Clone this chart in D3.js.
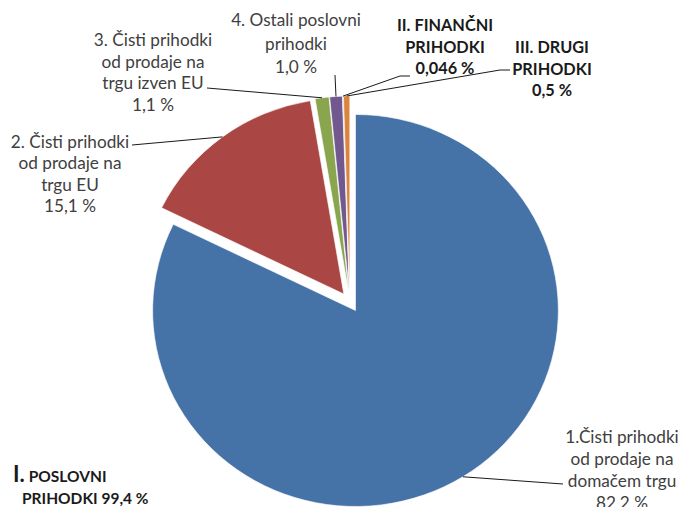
<!DOCTYPE html>
<head>
  <meta charset="utf-8">
  <script src="https://d3js.org/d3.v7.min.js"></script>
  <style>
    body { margin:0; background:#fff; }
    .lbl { font-family: Lato, sans-serif; font-size: 17.2px; fill: #404040; }
    .lbl.bold { font-weight: bold; font-size: 16.3px; fill: #1a1a1a; }
    .leader { fill: none; stroke: #1a1a1a; stroke-width: 1; }
  </style>
</head>
<body>
  <script>
    // slices in drawing order (clockwise from 12 o'clock)
    var categories = ["1.Čisti prihodki od prodaje na domačem trgu",
                      "2. Čisti prihodki od prodaje na trgu EU",
                      "3. Čisti prihodki od prodaje na trgu izven EU",
                      "4. Ostali poslovni prihodki",
                      "II. FINANČNI PRIHODKI",
                      "III. DRUGI PRIHODKI"];
    var values = [82.2, 15.1, 1.1, 1.0, 0.046, 0.5];
    var labelLines = [
      ["1.Čisti prihodki", "od prodaje na", "domačem trgu", "82,2 %"],
      ["2. Čisti prihodki", "od prodaje na", "trgu EU", "15,1 %"],
      ["3. Čisti prihodki", "od prodaje na", "trgu izven EU", "1,1 %"],
      ["4. Ostali poslovni", "prihodki", "1,0 %"],
      ["II. FINANČNI", "PRIHODKI", "0,046 %"],
      ["III. DRUGI", "PRIHODKI", "0,5 %"]
    ];
    var boldLabel = [false, false, false, false, true, true];
    var groupLabel = ["I.", "POSLOVNI", "PRIHODKI 99,4 %"];

    var colors = ["#4572a7", "#aa4643", "#89a54e", "#71588f", "#4198af", "#db843d"];

    var width = 682, height = 507;
    var cx = 350, cy = 302, r = 196, sx = 1.035, explode = 10;

    // label layout: centre x, first line centre y, line step, leader path (label side)
    var layout = [
      {x: 622, y: 437, dy: 22, leader: [[563, 484]]},
      {x: 70,  y: 142, dy: 21.3, leader: [[132, 145]]},
      {x: 153, y: 40,  dy: 21.7, leader: [[207, 88]]},
      {x: 296, y: 20,  dy: 23.5, leader: [[335, 75]]},
      {x: 445, y: 25,  dy: 21.5, leader: [[410, 76], [400, 76]]},
      {x: 552, y: 47,  dy: 21.5, leader: [[510, 70], [500, 70]]}
    ];

    var svg = d3.select("body").append("svg")
        .attr("width", width)
        .attr("height", height);

    var pie = d3.pie().sort(null).startAngle(0).endAngle(2 * Math.PI);
    var arcs = pie(values);
    var arc = d3.arc().innerRadius(0).outerRadius(r);

    function mid(d) { return (d.startAngle + d.endAngle) / 2; }
    function toScreen(px, py) { return [cx + px * sx, cy + py]; }

    var pieG = svg.append("g")
        .attr("transform", "translate(" + cx + "," + cy + ") scale(" + sx + ",1)");

    pieG.selectAll("path")
        .data(arcs)
      .enter().append("path")
        .attr("d", arc)
        .attr("fill", function(d, i) { return colors[i]; })
        .attr("stroke", "#fff")
        .attr("stroke-width", 0.6)
        .attr("transform", function(d) {
          var a = mid(d);
          return "translate(" + explode * Math.sin(a) + "," + (-explode * Math.cos(a)) + ")";
        });

    // leader lines
    var line = d3.line();
    arcs.forEach(function(d, i) {
      var a = mid(d);
      var rr = r + explode;
      var p = toScreen(rr * Math.sin(a), -rr * Math.cos(a));
      var pts = layout[i].leader.concat([p]);
      svg.append("path")
        .attr("class", "leader")
        .attr("d", line(pts));
    });

    // labels
    labelLines.forEach(function(lines, i) {
      var t = svg.append("text")
          .attr("class", "lbl" + (boldLabel[i] ? " bold" : ""))
          .attr("text-anchor", "middle");
      lines.forEach(function(s, k) {
        t.append("tspan")
          .attr("x", layout[i].x)
          .attr("y", layout[i].y + k * layout[i].dy + 6)
          .text(s);
      });
    });

    // group label for operating income
    var g1 = svg.append("text").attr("class", "lbl bold").attr("y", 482);
    g1.append("tspan").attr("x", 13).style("font-size", "22px").text(groupLabel[0]);
    g1.append("tspan").attr("dx", 4).style("font-size", "15.5px").text(groupLabel[1]);
    svg.append("text").attr("class", "lbl bold")
        .attr("x", 22).attr("y", 504)
        .style("font-size", "15.5px")
        .text(groupLabel[2]);
  </script>
</body>
